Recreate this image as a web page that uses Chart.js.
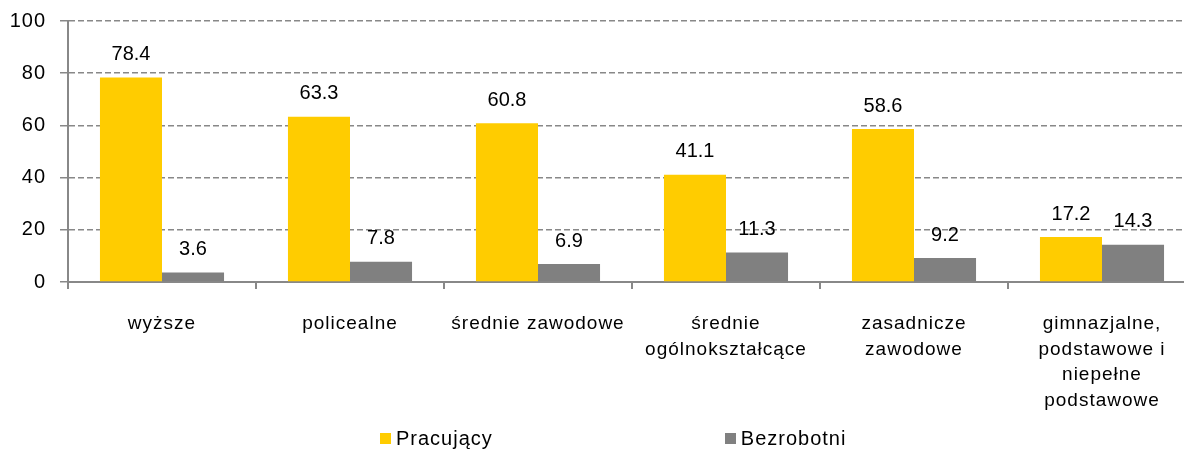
<html>
<head>
<meta charset="utf-8">
<script src="https://cdn.jsdelivr.net/npm/chart.js@4"></script>
<style>
  body { margin: 0; overflow: hidden; background: #fff; font-family: "Liberation Sans", Arial, sans-serif; }
  #wrap { position: relative; width: 1196px; height: 452px; }
  #legend { position: absolute; left: 380px; top: 427px; font-size: 20px; letter-spacing: 1px; color: #000; white-space: nowrap; }
  #legend span.item { display: inline-block; margin-right: 232px; }
  #legend span.box { display: inline-block; width: 11px; height: 11px; margin-right: 5px; vertical-align: 1px; }
</style>
</head>
<body>
<div id="wrap">
  <canvas id="myChart"></canvas>
  <div id="legend"></div>
</div>
<script>
var categories = [
  ['wyższe'],
  ['policealne'],
  ['średnie zawodowe'],
  ['średnie', 'ogólnokształcące'],
  ['zasadnicze', 'zawodowe'],
  ['gimnazjalne,', 'podstawowe i', 'niepełne', 'podstawowe']
];
var pracujacy = [78.4, 63.3, 60.8, 41.1, 58.6, 17.2];
var bezrobotni = [3.6, 7.8, 6.9, 11.3, 9.2, 14.3];
var yTicks = [0, 20, 40, 60, 80, 100];

var font = '"Liberation Sans", Arial, sans-serif';

// slightly spaced-out text like the original
var spacing = {
  id: 'spacing',
  beforeUpdate: function (chart) { chart.ctx.letterSpacing = '1px'; },
  beforeDraw: function (chart) { chart.ctx.letterSpacing = '1px'; }
};

// values above the bars
var valueLabels = {
  id: 'valueLabels',
  afterDatasetsDraw: function (chart) {
    var ctx = chart.ctx;
    ctx.save();
    ctx.letterSpacing = '0px';
    ctx.font = '20px ' + font;
    ctx.fillStyle = '#000';
    ctx.textAlign = 'center';
    ctx.textBaseline = 'bottom';
    chart.data.datasets.forEach(function (ds, i) {
      chart.getDatasetMeta(i).data.forEach(function (bar, j) {
        ctx.fillText(ds.data[j].toFixed(1), bar.x, bar.y - 13);
      });
    });
    ctx.restore();
  }
};

var ctx = document.getElementById('myChart').getContext('2d');
var chart = new Chart(ctx, {
  type: 'bar',
  data: {
    labels: categories,
    datasets: [{
      label: 'Pracujący',
      backgroundColor: '#FFCC00',
      data: pracujacy
    }, {
      label: 'Bezrobotni',
      backgroundColor: '#808080',
      data: bezrobotni
    }]
  },
  options: {
    responsive: true,
    maintainAspectRatio: false,
    animation: false,
    categoryPercentage: 0.66,
    barPercentage: 1.0,
    layout: { padding: { top: 0, left: 0, right: 0, bottom: 0 } },
    plugins: {
      legend: { display: false },
      tooltip: { enabled: false }
    },
    scales: {
      x: {
        grid: { drawOnChartArea: false, drawTicks: true, tickLength: 7, color: '#888', lineWidth: 2 },
        border: { color: '#888', width: 2 },
        ticks: { color: '#000', font: { family: font, size: 19, lineHeight: 1.35 }, padding: 22, maxRotation: 0, autoSkip: false },
        afterFit: function (scale) { scale.height = 170; }
      },
      y: {
        min: 0,
        max: 100,
        afterBuildTicks: function (scale) { scale.ticks = yTicks.map(function (v) { return { value: v }; }); },
        grid: { color: '#888', lineWidth: 1.5, tickLength: 8, tickBorderDash: [] },
        border: { color: '#888', width: 2, dash: [6, 3] },
        ticks: { color: '#000', font: { family: font, size: 20 }, padding: 14 },
        afterFit: function (scale) {
          scale.width = 68;
          scale.paddingTop = 21;
          scale.paddingBottom = 12;
        }
      }
    }
  },
  plugins: [spacing, valueLabels]
});

var legend = document.getElementById('legend');
chart.data.datasets.forEach(function (ds) {
  var item = document.createElement('span');
  item.className = 'item';
  var box = document.createElement('span');
  box.className = 'box';
  box.style.background = ds.backgroundColor;
  item.appendChild(box);
  item.appendChild(document.createTextNode(ds.label));
  legend.appendChild(item);
});
</script>
</body>
</html>
